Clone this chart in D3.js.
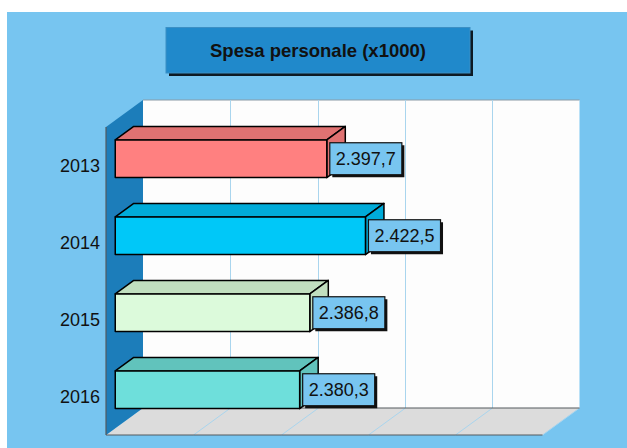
<!DOCTYPE html>
<html>
<head>
<meta charset="utf-8">
<script src="https://cdn.jsdelivr.net/npm/d3@7"></script>
<style>
  html, body { margin: 0; padding: 0; background: #ffffff; }
  svg { display: block; font-family: "Liberation Sans", Arial, sans-serif; }
</style>
</head>
<body>
<svg id="chart" width="627" height="448"></svg>
<script>
// Data
const title = "Spesa personale (x1000)";
const categories = ["2013", "2014", "2015", "2016"];
const values = [2397.7, 2422.5, 2386.8, 2380.3];
const valueDomain = [2262, 2542];
const gridCount = 5;

// Bar colours: front face and shaded top/side faces
const frontColors = ["#ff8080", "#00c8f8", "#dcfadb", "#6edfdb"];
const shadeColors = ["#e07272", "#00abd9", "#c1dfbf", "#61c3bc"];

const svg = d3.select("#chart");
const W = 627, H = 448;

// Panel background
svg.append("rect").attr("x", 7).attr("y", 12).attr("width", W - 7).attr("height", H - 12)
  .attr("fill", "#77c5f0");

// Plot geometry: back plane and depth offset towards the viewer
const back = { x0: 143, x1: 579.5, y0: 100, y1: 408 };
const depth = { dx: -37, dy: 27 };

const x = d3.scaleLinear().domain(valueDomain).range([back.x0, back.x1]);
const y = d3.scaleBand().domain(categories).range([back.y0, back.y1])
  .paddingInner(0.51).paddingOuter(0.255);
const gridValues = d3.range(gridCount + 1).map(i => valueDomain[0] + i * (valueDomain[1] - valueDomain[0]) / gridCount);

const pt = (px, py, f) => [px + depth.dx * f, py + depth.dy * f];
const poly = pts => pts.map(p => p.join(",")).join(" ");

// Back wall
svg.append("rect").attr("x", back.x0).attr("y", back.y0)
  .attr("width", back.x1 - back.x0).attr("height", back.y1 - back.y0)
  .attr("fill", "#fdfdfd");
svg.append("line").attr("x1", back.x0).attr("x2", back.x1).attr("y1", back.y0).attr("y2", back.y0)
  .attr("stroke", "#8a9aa6").attr("stroke-width", 1);

// Floor
svg.append("polygon")
  .attr("points", poly([[back.x0, back.y1], [back.x1, back.y1], pt(back.x1, back.y1, 1), pt(back.x0, back.y1, 1)]))
  .attr("fill", "#dcdcdc");

// Left wall
svg.append("polygon")
  .attr("points", poly([[back.x0, back.y0], [back.x0, back.y1], pt(back.x0, back.y1, 1), pt(back.x0, back.y0, 1)]))
  .attr("fill", "#1c7dba");

// Grid lines on back wall and floor
const grid = svg.append("g").attr("stroke", "#a9d5ee").attr("stroke-width", 1);
gridValues.slice(1, -1).forEach(v => {
  const gx = Math.round(x(v)) + 0.5;
  grid.append("line").attr("x1", gx).attr("x2", gx).attr("y1", back.y0).attr("y2", back.y1);
  const f = pt(gx, back.y1, 1);
  grid.append("line").attr("x1", gx).attr("y1", back.y1).attr("x2", f[0]).attr("y2", f[1]);
});
{
  const f = pt(x(valueDomain[1]), back.y1, 1);
  grid.append("line").attr("x1", x(valueDomain[1])).attr("y1", back.y1).attr("x2", f[0]).attr("y2", f[1]);
}

// Floor and wall edges
const edges = svg.append("g").attr("stroke", "#555a5e").attr("stroke-width", 1.2).attr("fill", "none");
edges.append("line").attr("x1", back.x0).attr("x2", back.x1).attr("y1", back.y1).attr("y2", back.y1);
{
  const a = pt(back.x0, back.y1, 1), b = pt(back.x1, back.y1, 1), c = pt(back.x0, back.y0, 1);
  edges.append("line").attr("x1", a[0]).attr("y1", a[1]).attr("x2", b[0]).attr("y2", b[1]);
  edges.append("line").attr("x1", c[0]).attr("y1", c[1]).attr("x2", a[0]).attr("y2", a[1]);
}

// Bars (3D boxes between depth fractions 0.25 and 0.75)
const fBack = 0.25, fFront = 0.75;
const fmt = d3.formatLocale({ decimal: ",", thousands: ".", grouping: [3], currency: ["€", ""] }).format(",.1f");

const bars = svg.append("g");
categories.forEach((c, i) => {
  const v = values[i];
  const top = y(c), bot = y(c) + y.bandwidth();
  const x0 = x(valueDomain[0]), x1 = x(v);
  const ftl = pt(x0, top, fFront), ftr = pt(x1, top, fFront), fbr = pt(x1, bot, fFront);
  const btl = pt(x0, top, fBack), btr = pt(x1, top, fBack), bbr = pt(x1, bot, fBack);
  const g = bars.append("g").attr("stroke", "#000").attr("stroke-width", 1.5).attr("stroke-linejoin", "round");
  g.append("polygon").attr("points", poly([ftl, ftr, btr, btl])).attr("fill", shadeColors[i]);
  g.append("polygon").attr("points", poly([ftr, btr, bbr, fbr])).attr("fill", shadeColors[i]);
  g.append("rect").attr("x", ftl[0]).attr("y", ftl[1])
    .attr("width", ftr[0] - ftl[0]).attr("height", fbr[1] - ftr[1])
    .attr("fill", frontColors[i]);

  // Value label box
  const label = fmt(v);
  const cy = (ftr[1] + fbr[1]) / 2;
  const lg = svg.append("g");
  const t = lg.append("text").attr("x", 0).attr("y", 0).attr("font-size", 18).attr("fill", "#111")
    .text(label);
  const tw = t.node().getComputedTextLength();
  const bw = tw + 12, bh = 32;
  const bx = ftr[0] + 3, by = cy - bh / 2;
  lg.insert("rect", "text").attr("x", bx + 2.5).attr("y", by + 2.5).attr("width", bw).attr("height", bh)
    .attr("fill", "#111");
  lg.insert("rect", "text").attr("x", bx).attr("y", by).attr("width", bw).attr("height", bh)
    .attr("fill", "#78c5f0").attr("stroke", "#111").attr("stroke-width", 1.2);
  t.attr("x", bx + 6).attr("y", cy).attr("dy", "0.36em");
});

// Category labels on the front plane, centred on each band
svg.append("g").selectAll("text").data(categories).join("text")
  .attr("x", 100)
  .attr("y", d => pt(0, y(d) + y.bandwidth() / 2, 1)[1])
  .attr("dy", "0.36em")
  .attr("text-anchor", "end").attr("font-size", 18).attr("fill", "#111")
  .text(d => d);

// Title box
const tb = { x: 166, y: 27.5, w: 304, h: 45.5 };
svg.append("rect").attr("x", tb.x + 3).attr("y", tb.y + 3).attr("width", tb.w).attr("height", tb.h).attr("fill", "#0d1a24");
svg.append("rect").attr("x", tb.x).attr("y", tb.y).attr("width", tb.w).attr("height", tb.h)
  .attr("fill", "#2089cb").attr("stroke", "#3b8fc4").attr("stroke-width", 1);
svg.append("text").attr("x", tb.x + tb.w / 2).attr("y", tb.y + tb.h / 2).attr("dy", "0.36em")
  .attr("text-anchor", "middle").attr("font-size", 18.5).attr("font-weight", "bold").attr("fill", "#111")
  .text(title);
</script>
</body>
</html>
